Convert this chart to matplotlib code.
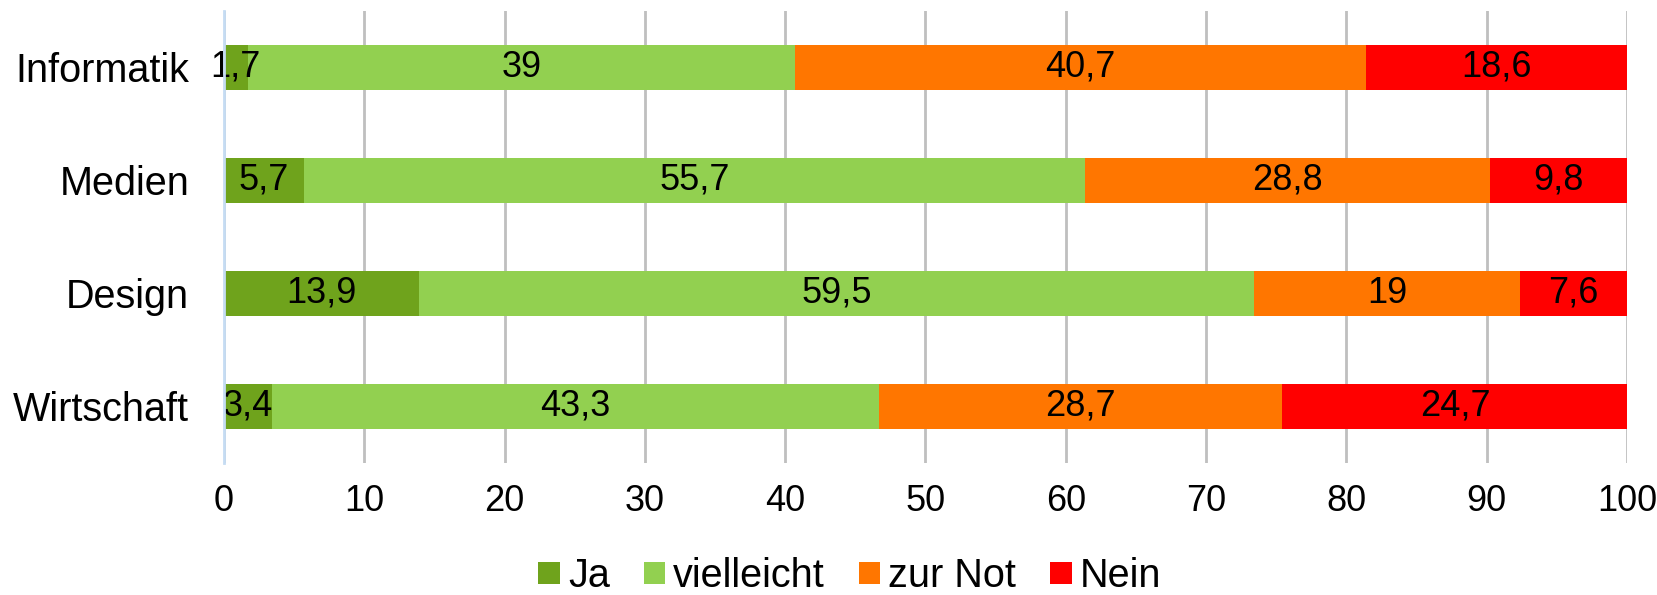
import matplotlib
matplotlib.use('Agg')
import matplotlib.pyplot as plt
import numpy as np

categories = ['Informatik', 'Medien', 'Design', 'Wirtschaft']
series = ['Ja', 'vielleicht', 'zur Not', 'Nein']
ja = [1.7, 5.7, 13.9, 3.4]
vielleicht = [39, 55.7, 59.5, 43.3]
zur_not = [40.7, 28.8, 19, 28.7]
nein = [18.6, 9.8, 7.6, 24.7]
colors = ['#6fa31c', '#92d050', '#ff7600', '#ff0000']
xticks = [0, 10, 20, 30, 40, 50, 60, 70, 80, 90, 100]

plt.rcParams.update({'font.family': ['Liberation Sans', 'DejaVu Sans']})
FS_CAT = 28.5
FS_NUM = 26

fig = plt.figure(figsize=(16.58, 5.95), dpi=100)
ax = fig.add_axes([0.1351, 0.222, 0.9813 - 0.1351, 0.9815 - 0.222])

y = np.arange(len(categories))
left = np.zeros(len(categories))
for name, vals, col in zip(series, [ja, vielleicht, zur_not, nein], colors):
    vals = np.asarray(vals, dtype=float)
    ax.barh(y, vals, left=left, height=0.405, color=col, label=name, zorder=3)
    for yi, l, v in zip(y, left, vals):
        txt = f'{v:g}'.replace('.', ',')
        ax.text(l + v / 2, yi, txt, ha='center', va='center', fontsize=FS_NUM, color='black', zorder=4)
    left += vals

ax.set_xlim(0, 100)
ax.set_ylim(3.5, -0.5)
ax.set_yticks(y)
ax.set_yticklabels(categories, fontsize=FS_CAT)
ax.set_xticks(xticks)
ax.set_xticklabels([str(t) for t in xticks], fontsize=FS_NUM)
ax.tick_params(axis='y', length=0, pad=25)
ax.tick_params(axis='x', length=0, pad=15)
ax.xaxis.grid(True, color='#bfbfbf', linewidth=2, zorder=0)
for s in ['top', 'right', 'bottom']:
    ax.spines[s].set_visible(False)
ax.spines['left'].set_color('#c5dcf3')
ax.spines['left'].set_linewidth(2)
ax.spines['left'].set_zorder(5)

fig.legend(loc='center', bbox_to_anchor=(0.5125, 0.032), ncol=4, frameon=False,
           fontsize=FS_CAT, handlelength=0.55, handleheight=0.5, handletextpad=0.2,
           columnspacing=0.85, borderpad=0, borderaxespad=0)

fig.savefig('out.png', dpi=100)
